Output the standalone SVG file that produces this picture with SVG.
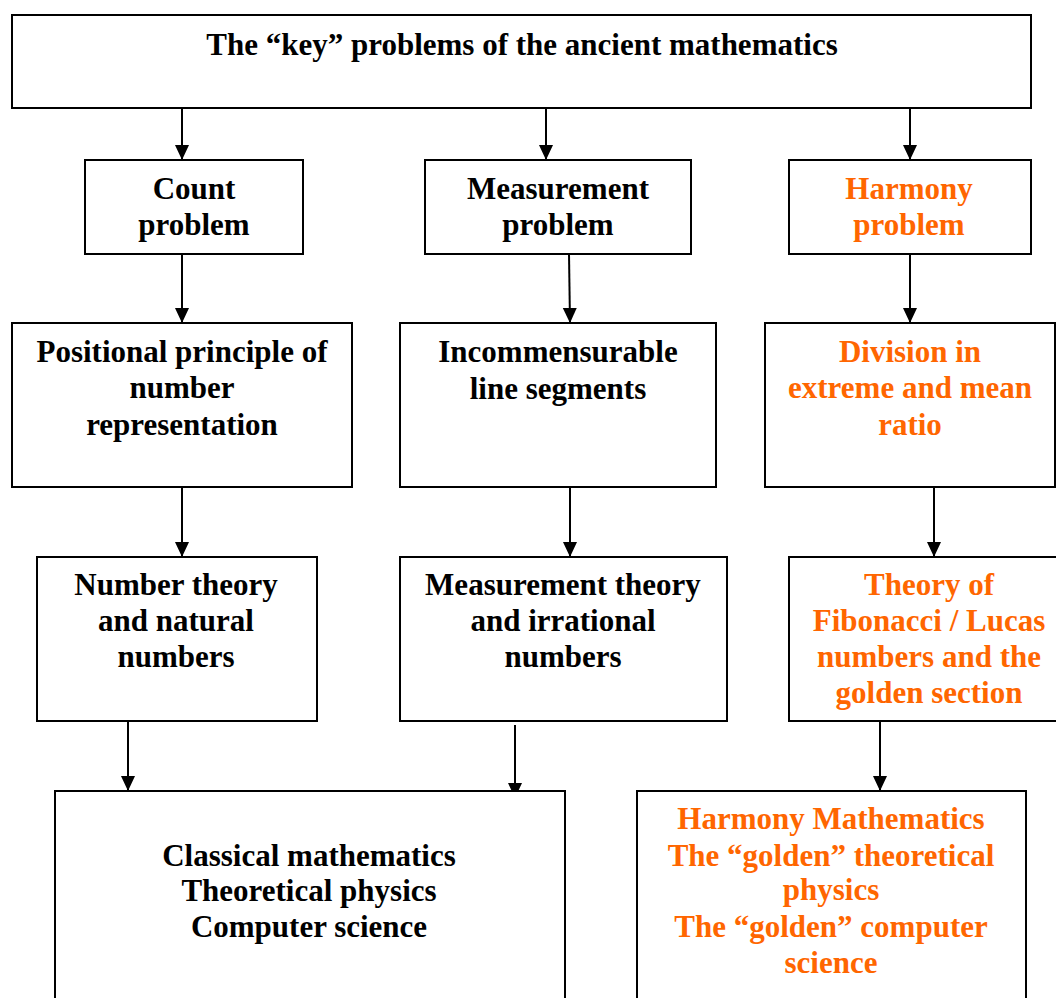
<svg xmlns="http://www.w3.org/2000/svg" width="1056" height="998" viewBox="0 0 1056 998">
<style>
.box{fill:#fff;stroke:#000;stroke-width:2}
.t{font-family:"Liberation Serif","Times New Roman",serif;font-weight:bold;font-size:31px;text-anchor:middle;fill:#000}
.o{fill:#FF6600}
.c{stroke:#000;stroke-width:2;fill:none;marker-end:url(#ah)}
</style>
<defs>
<marker id="ah" markerUnits="userSpaceOnUse" markerWidth="16" markerHeight="16" viewBox="0 0 16 16" refX="15" refY="8" orient="auto">
<path d="M0,1 L15,8 L0,15 Z" fill="#000"/>
</marker>
</defs>
<rect width="1056" height="998" fill="#fff"/>
<g id="connectors">
<line class="c" x1="182" y1="108" x2="182" y2="160"/>
<line class="c" x1="546" y1="108" x2="546" y2="160"/>
<line class="c" x1="910" y1="108" x2="910" y2="160"/>
<line class="c" x1="182" y1="254" x2="182" y2="323"/>
<line class="c" x1="569" y1="254" x2="570" y2="323"/>
<line class="c" x1="910" y1="254" x2="910" y2="323"/>
<line class="c" x1="182" y1="487" x2="182" y2="557"/>
<line class="c" x1="570" y1="487" x2="570" y2="557"/>
<line class="c" x1="934" y1="487" x2="934" y2="557"/>
<line class="c" x1="128" y1="721" x2="128" y2="791"/>
<line class="c" x1="515" y1="725" x2="515" y2="798"/>
<line class="c" x1="880" y1="721" x2="880" y2="791"/>
</g>
<g id="top">
<rect class="box" x="12" y="15" width="1019" height="93"/>
<text class="t" x="522" y="55">The “key” problems of the ancient mathematics</text>
</g>
<g id="count">
<rect class="box" x="85" y="160" width="218" height="94"/>
<text class="t" x="194" y="199">Count</text>
<text class="t" x="194" y="235">problem</text>
</g>
<g id="measurement">
<rect class="box" x="425" y="160" width="266" height="94"/>
<text class="t" x="558" y="199">Measurement</text>
<text class="t" x="558" y="235">problem</text>
</g>
<g id="harmony">
<rect class="box" x="789" y="160" width="242" height="94"/>
<text class="t o" x="909" y="199">Harmony</text>
<text class="t o" x="909" y="235">problem</text>
</g>
<g id="positional">
<rect class="box" x="12" y="323" width="340" height="164"/>
<text class="t" x="182" y="362">Positional principle of</text>
<text class="t" x="182" y="398">number</text>
<text class="t" x="182" y="435">representation</text>
</g>
<g id="incommensurable">
<rect class="box" x="400" y="323" width="316" height="164"/>
<text class="t" x="558" y="362">Incommensurable</text>
<text class="t" x="558" y="399">line segments</text>
</g>
<g id="division">
<rect class="box" x="765" y="323" width="290" height="164"/>
<text class="t o" x="910" y="362">Division in</text>
<text class="t o" x="910" y="398">extreme and mean</text>
<text class="t o" x="910" y="435">ratio</text>
</g>
<g id="number-theory">
<rect class="box" x="37" y="557" width="280" height="164"/>
<text class="t" x="176" y="595">Number theory</text>
<text class="t" x="176" y="631">and natural</text>
<text class="t" x="176" y="667">numbers</text>
</g>
<g id="measurement-theory">
<rect class="box" x="400" y="557" width="327" height="164"/>
<text class="t" x="563" y="595">Measurement theory</text>
<text class="t" x="563" y="631">and irrational</text>
<text class="t" x="563" y="667">numbers</text>
</g>
<g id="fibonacci">
<rect class="box" x="789" y="557" width="270" height="164"/>
<text class="t o" x="929" y="595">Theory of</text>
<text class="t o" x="929" y="631">Fibonacci / Lucas</text>
<text class="t o" x="929" y="667">numbers and the</text>
<text class="t o" x="929" y="703">golden section</text>
</g>
<g id="classical">
<rect class="box" x="55" y="791" width="510" height="220"/>
<text class="t" x="309" y="866">Classical mathematics</text>
<text class="t" x="309" y="901">Theoretical physics</text>
<text class="t" x="309" y="937">Computer science</text>
</g>
<g id="harmony-math">
<rect class="box" x="637" y="791" width="389" height="220"/>
<text class="t o" x="831" y="829">Harmony Mathematics</text>
<text class="t o" x="831" y="866">The “golden” theoretical</text>
<text class="t o" x="831" y="900">physics</text>
<text class="t o" x="831" y="937">The “golden” computer</text>
<text class="t o" x="831" y="973">science</text>
</g>
</svg>
